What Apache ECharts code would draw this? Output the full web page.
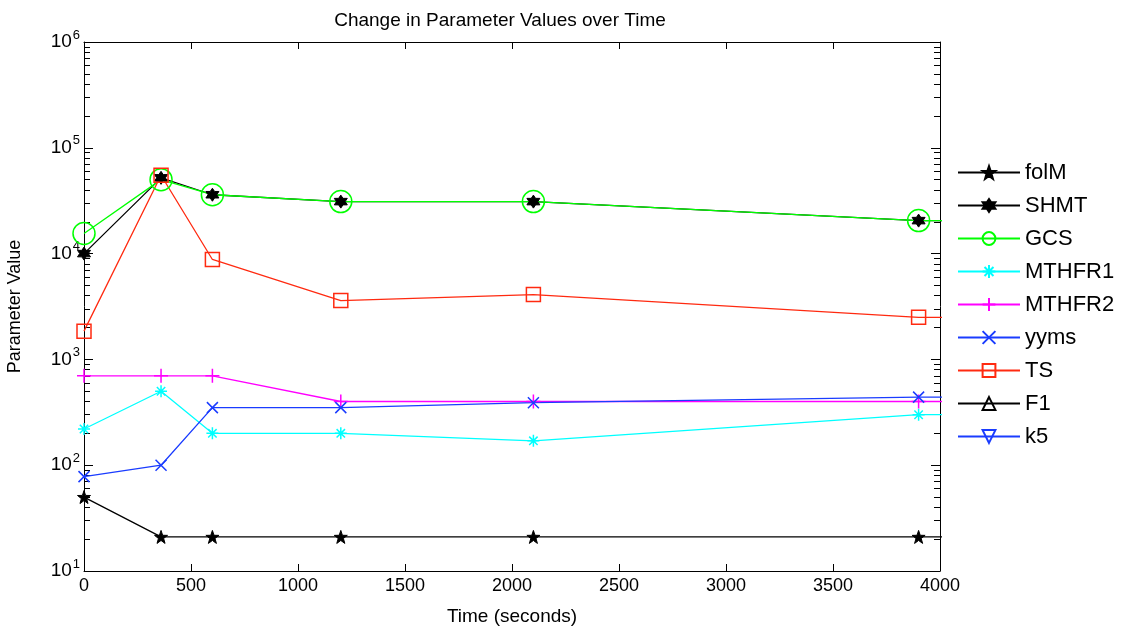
<!DOCTYPE html>
<html>
<head>
<meta charset="utf-8">
<script src="https://cdn.jsdelivr.net/npm/echarts@6/dist/echarts.min.js"></script>
<style>
  html, body { margin: 0; padding: 0; background: #ffffff; }
  #chart { width: 1128px; height: 633px; }
</style>
</head>
<body>
<div id="chart"></div>
<script>
// Sample times in seconds; the final sample lies past the end of the time axis
const times  = [0, 360, 600, 1200, 2100, 3900, 7200];

// Parameter values at each sample time
const folM   = [50, 21, 21, 21, 21, 21, 21];
const SHMT   = [10000, 52000, 36000, 31000, 31000, 20500, 20500];
const GCS    = [15500, 50000, 36000, 31000, 31000, 20500, 20500];
const MTHFR1 = [220, 500, 200, 200, 170, 300, 300];
const MTHFR2 = [700, 700, 700, 400, 400, 400, 400];
const yyms   = [78, 100, 350, 350, 390, 440, 440];
const TS     = [1850, 55000, 8800, 3600, 4100, 2500, 2500];
const F1     = [];
const k5     = [];

// Axis ticks
const xTicks = [0, 500, 1000, 1500, 2000, 2500, 3000, 3500, 4000];
const yTickExponents = [1, 2, 3, 4, 5, 6];

const FONT = '"Liberation Sans", Arial, Helvetica, sans-serif';

// Marker shapes
function starPath(points, inner) {
  let d = '';
  for (let i = 0; i < points * 2; i++) {
    const r = i % 2 ? inner : 1;
    const a = -Math.PI / 2 + i * Math.PI / points;
    d += (i ? 'L' : 'M') + (r * Math.cos(a)).toFixed(3) + ',' + (r * Math.sin(a)).toFixed(3);
  }
  return 'path://' + d + 'Z';
}
const PENTAGRAM = starPath(5, 0.4);
const HEXAGRAM = starPath(6, 0.58);
const ASTERISK = 'path://M0,-1L0,1M-1,0L1,0M-0.7,-0.7L0.7,0.7M-0.7,0.7L0.7,-0.7';
const PLUS = 'path://M0,-1L0,1M-1,0L1,0';
const CROSS = 'path://M-1,-1L1,1M-1,1L1,-1';
const TRI_UP = 'path://M0,-1L1,0.8L-1,0.8Z';
const TRI_DOWN = 'path://M0,1L1,-0.8L-1,-0.8Z';

function lineSeries(name, values, color, symbol, size, filled) {
  return {
    name: name,
    type: 'line',
    data: values.map((v, i) => [times[i], v]),
    xAxisIndex: 0,
    yAxisIndex: 0,
    symbol: symbol,
    symbolSize: size,
    showAllSymbol: true,
    clip: true,
    lineStyle: { color: color, width: 1.3 },
    itemStyle: filled
      ? { color: color, borderColor: color, borderWidth: 1 }
      : { color: 'rgba(0,0,0,0)', borderColor: color, borderWidth: 1.5 },
    emphasis: { disabled: true },
    animation: false
  };
}

const minorTickValues = [];
for (let e = 1; e < 6; e++) {
  for (let m = 2; m <= 9; m++) minorTickValues.push(m * Math.pow(10, e));
}

const baseLog = {
  type: 'log',
  logBase: 10,
  min: Math.pow(10, yTickExponents[0]),
  max: Math.pow(10, yTickExponents[yTickExponents.length - 1]),
  splitLine: { show: false }
};

const chart = echarts.init(document.getElementById('chart'), null, { renderer: 'canvas' });

chart.setOption({
  backgroundColor: '#ffffff',
  animation: false,
  title: {
    text: 'Change in Parameter Values over Time',
    left: 495,
    textAlign: 'center',
    top: 6,
    textStyle: { fontFamily: FONT, fontSize: 19, fontWeight: 'normal', color: '#000' }
  },
  grid: {
    left: 84, right: 188, top: 42, bottom: 62,
    containLabel: false,
    outerBoundsMode: 'none'
  },
  legend: {
    orient: 'vertical',
    left: 957,
    top: 161,
    padding: 0,
    itemWidth: 62,
    itemHeight: 16,
    itemGap: 10,
    textStyle: { fontFamily: FONT, fontSize: 22, lineHeight: 23, color: '#000' },
    data: ['folM', 'SHMT', 'GCS', 'MTHFR1', 'MTHFR2', 'yyms', 'TS', 'F1', 'k5']
  },
  xAxis: [
    {
      type: 'value',
      position: 'bottom',
      min: xTicks[0],
      max: xTicks[xTicks.length - 1],
      interval: xTicks[1] - xTicks[0],
      axisLine: { show: true, onZero: false, lineStyle: { color: '#000', width: 1 } },
      axisTick: { show: true, inside: true, length: 7, lineStyle: { color: '#000' } },
      axisLabel: {
        color: '#000', fontFamily: FONT, fontSize: 18, margin: 6,
        formatter: function (v) { return String(v); }
      },
      splitLine: { show: false },
      name: 'Time (seconds)',
      nameLocation: 'middle',
      nameGap: 36,
      nameTextStyle: { fontFamily: FONT, fontSize: 19, color: '#000' }
    },
    {
      type: 'value',
      position: 'top',
      min: xTicks[0],
      max: xTicks[xTicks.length - 1],
      interval: xTicks[1] - xTicks[0],
      axisLine: { show: true, onZero: false, lineStyle: { color: '#000', width: 1 } },
      axisTick: { show: true, inside: true, length: 7, lineStyle: { color: '#000' } },
      axisLabel: { show: false },
      splitLine: { show: false }
    }
  ],
  yAxis: [
    Object.assign({}, baseLog, {
      position: 'left',
      axisLine: { show: true, lineStyle: { color: '#000', width: 1 } },
      axisTick: { show: true, inside: true, length: 9, lineStyle: { color: '#000' } },
      axisLabel: {
        color: '#000',
        margin: 4,
        formatter: function (v) {
          return '{b|10}{s|' + Math.round(Math.log10(v)) + '}';
        },
        rich: {
          b: { fontFamily: FONT, fontSize: 19, color: '#000' },
          s: { fontFamily: FONT, fontSize: 13, color: '#000', padding: [0, 0, 14, 1] }
        }
      },
      name: 'Parameter Value',
      nameLocation: 'middle',
      nameGap: 60,
      nameTextStyle: { fontFamily: FONT, fontSize: 18, color: '#000' }
    }),
    Object.assign({}, baseLog, {
      position: 'left',
      axisLine: { show: false },
      axisTick: { show: true, inside: true, length: 6, customValues: minorTickValues, lineStyle: { color: '#000' } },
      axisLabel: { show: false }
    }),
    Object.assign({}, baseLog, {
      position: 'right',
      axisLine: { show: true, lineStyle: { color: '#000', width: 1 } },
      axisTick: { show: true, inside: true, length: 9, lineStyle: { color: '#000' } },
      axisLabel: { show: false }
    }),
    Object.assign({}, baseLog, {
      position: 'right',
      axisLine: { show: false },
      axisTick: { show: true, inside: true, length: 6, customValues: minorTickValues, lineStyle: { color: '#000' } },
      axisLabel: { show: false }
    })
  ],
  series: [
    lineSeries('folM',   folM,   '#000000', PENTAGRAM, 13, true),
    lineSeries('SHMT',   SHMT,   '#000000', HEXAGRAM,  13, true),
    lineSeries('GCS',    GCS,    '#00ff00', 'circle',  22, false),
    lineSeries('MTHFR1', MTHFR1, '#00ffff', ASTERISK,  12, false),
    lineSeries('MTHFR2', MTHFR2, '#ff00ff', PLUS,      14, false),
    lineSeries('yyms',   yyms,   '#1a3cff', CROSS,     11, false),
    lineSeries('TS',     TS,     '#ff2a10', 'rect',    14, false),
    lineSeries('F1',     F1,     '#000000', TRI_UP,    11, false),
    lineSeries('k5',     k5,     '#1a3cff', TRI_DOWN,  11, false)
  ]
});
</script>
</body>
</html>
